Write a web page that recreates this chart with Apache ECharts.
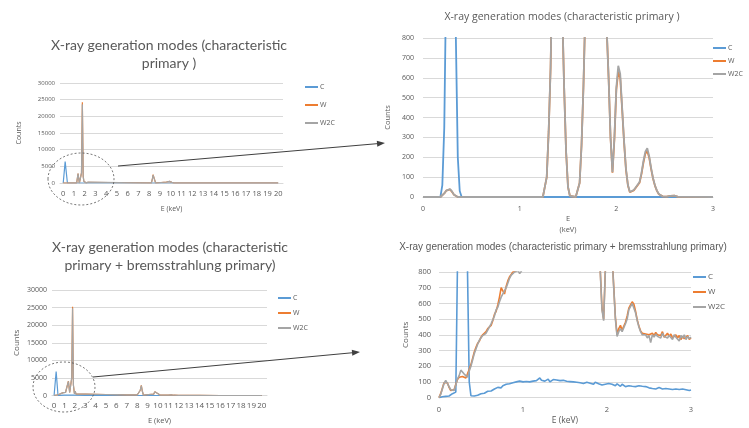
<!DOCTYPE html>
<html>
<head>
<meta charset="utf-8">
<script src="https://cdn.jsdelivr.net/npm/echarts@6/dist/echarts.min.js"></script>
<style>
  html, body { margin: 0; padding: 0; background: #fff; }
  #chart { width: 749px; height: 428px; }
</style>
</head>
<body>
<div id="chart"></div>
<script>
// full range spectra (E keV, counts), characteristic primary only
const fullCharC = [[0,0],[0.15,0],[0.18,6400],[0.36,6500],[0.39,0],[20,0]];
const fullCharW = [[0,0],[0.2,0],[0.27,40],[0.35,0],[1.25,0],[1.38,2800],[1.5,0],[1.6,0],[1.7,3000],[1.78,24200],[1.86,2000],[1.92,500],[1.96,120],[2.03,600],[2.12,50],[2.32,220],[2.45,0],[8.2,0],[8.3,1300],[8.36,2500],[8.42,2700],[8.5,1000],[8.6,0],[9.6,300],[9.7,800],[9.9,500],[10.1,200],[10.3,0],[20,0]];
const fullCharW2C = [[0,0],[0.2,0],[0.27,40],[0.35,0],[1.25,0],[1.38,2800],[1.5,0],[1.6,0],[1.7,3000],[1.78,23600],[1.86,2000],[1.92,500],[1.96,120],[2.03,670],[2.12,50],[2.32,245],[2.45,0],[8.2,0],[8.3,1200],[8.36,2400],[8.42,2600],[8.5,1000],[8.6,0],[9.6,300],[9.7,780],[9.9,480],[10.1,200],[10.3,0],[20,0]];

// full range spectra, characteristic + bremsstrahlung primary
const fullBremC = [[0,0],[0.1,10],[0.15,30],[0.2,6800],[0.33,7000],[0.38,10],[0.5,30],[1,100],[1.2,120],[2,90],[3,50],[5,20],[10,5],[20,0]];
const fullBremW = [[0,0],[0.1,110],[0.17,40],[0.27,150],[0.35,120],[0.5,360],[0.7,600],[0.9,800],[1.1,850],[1.25,900],[1.38,4100],[1.5,900],[1.6,950],[1.7,5000],[1.78,25200],[1.86,3000],[1.96,500],[2.03,1200],[2.12,400],[2.3,610],[2.45,400],[3,380],[4,330],[5,280],[6,230],[7,180],[8,150],[8.3,1500],[8.4,2900],[8.5,1200],[8.6,140],[9.6,400],[9.7,1100],[9.9,700],[10.2,120],[11,90],[11.3,200],[11.5,80],[12,60],[13,40],[14,20],[16,5],[20,0]];
const fullBremW2C = [[0,0],[0.1,110],[0.17,40],[0.27,180],[0.35,120],[0.5,350],[0.7,600],[0.9,800],[1.1,850],[1.25,900],[1.38,4000],[1.5,900],[1.6,950],[1.7,5000],[1.78,24800],[1.86,3000],[1.96,490],[2.03,1200],[2.12,400],[2.3,600],[2.45,400],[3,380],[4,330],[5,280],[6,230],[7,180],[8,150],[8.3,1500],[8.4,2800],[8.5,1200],[8.6,140],[9.6,400],[9.7,1050],[9.9,700],[10.2,120],[11,90],[11.3,200],[11.5,80],[12,60],[13,40],[14,20],[16,5],[20,0]];

// zoomed 0-3 keV, characteristic primary
const zoomCharC = [[0,0],[0.18,0],[0.20,60],[0.22,350],[0.24,1100],[0.26,4000],[0.28,6500],[0.30,5000],[0.32,2200],[0.34,800],[0.36,200],[0.38,30],[0.40,0],[3,0]];
const zoomCharW = [[0,0],[0.18,0],[0.20,5],[0.22,18],[0.24,32],[0.26,40],[0.28,38],[0.30,26],[0.32,11],[0.34,3],[0.36,0],
  [1.24,0],[1.26,10],[1.28,100],[1.30,330],[1.32,650],[1.34,1200],[1.36,2000],[1.38,2800],[1.40,2600],[1.42,1700],[1.44,950],[1.46,550],[1.48,230],[1.50,50],[1.52,5],[1.54,0],[1.58,0],
  [1.60,10],[1.62,70],[1.64,260],[1.66,560],[1.68,950],[1.70,3000],[1.72,8500],[1.74,16000],[1.76,22000],[1.78,24200],[1.80,19000],[1.82,11000],[1.84,5000],[1.86,2200],[1.88,1200],[1.90,850],
  [1.92,600],[1.94,300],[1.96,122],[1.98,290],[2.00,540],[2.02,630],[2.04,600],[2.06,440],[2.08,275],[2.10,135],[2.12,58],[2.14,24],[2.16,19],[2.18,33],[2.20,46],[2.22,56],[2.24,72],
  [2.26,115],[2.28,172],[2.30,218],[2.32,232],[2.34,198],[2.36,140],[2.38,92],[2.40,56],[2.42,31],[2.44,14],[2.46,6],[2.48,3],[2.50,2],[2.52,2],[2.54,4],[2.56,6],[2.58,8],[2.60,7],[2.62,4],[2.64,1],[2.66,0],[3,0]];
const zoomCharW2C = [[0,0],[0.18,0],[0.20,5],[0.22,18],[0.24,32],[0.26,42],[0.28,40],[0.30,28],[0.32,12],[0.34,3],[0.36,0],
  [1.24,0],[1.26,10],[1.28,100],[1.30,330],[1.32,650],[1.34,1200],[1.36,2000],[1.38,2800],[1.40,2600],[1.42,1700],[1.44,950],[1.46,550],[1.48,230],[1.50,50],[1.52,5],[1.54,0],[1.58,0],
  [1.60,10],[1.62,70],[1.64,260],[1.66,560],[1.68,950],[1.70,3000],[1.72,8500],[1.74,16000],[1.76,22000],[1.78,23600],[1.80,19000],[1.82,11000],[1.84,5000],[1.86,2200],[1.88,1200],[1.90,850],
  [1.92,600],[1.94,300],[1.96,125],[1.98,300],[2.00,550],[2.02,660],[2.04,620],[2.06,450],[2.08,280],[2.10,140],[2.12,60],[2.14,25],[2.16,20],[2.18,35],[2.20,48],[2.22,58],[2.24,75],
  [2.26,120],[2.28,180],[2.30,228],[2.32,245],[2.34,205],[2.36,145],[2.38,95],[2.40,58],[2.42,32],[2.44,15],[2.46,6],[2.48,3],[2.50,2],[2.52,2],[2.54,4],[2.56,6],[2.58,8],[2.60,7],[2.62,4],[2.64,1],[2.66,0],[3,0]];

// zoomed 0-3 keV, characteristic + bremsstrahlung, one value every 0.02 keV
const zoomStep = 0.02;
const zoomBremC = [
  0, 3, 5, 5, 8,   8, 10, 15, 25, 30,   35, 850, 3500, 6000, 6800,   5200, 2500, 780, 100, 12,
  8, 10, 12, 15, 18,   25, 30, 28, 35, 40,   45, 42, 50, 55, 60,   65, 70, 62, 75, 80,
  85, 78, 88, 90, 95,   92, 100, 98, 105, 95,   100, 108, 103, 110, 100,   112, 105, 115, 108, 118,
  125, 110, 120, 105, 112,   118, 100, 110, 115, 105,   112, 100, 108, 98, 110,   100, 104, 95, 102, 98,
  100, 92, 98, 102, 95,   100, 90, 95, 98, 88,   92, 95, 85, 98, 90,   88, 92, 80, 90, 85,
  82, 90, 78, 85, 80,   75, 88, 80, 72, 85,   78, 70, 80, 75, 68,   72, 78, 70, 65, 75,
  68, 72, 60, 70, 65,   62, 70, 58, 65, 55,   60, 64, 58, 55, 62,   58, 60, 55, 62, 52,
  58, 55, 60, 52, 58,   55, 60, 50, 58, 45,   48];
const zoomBremW = [
  0, 25, 60, 95, 105,   95, 65, 45, 40, 50,   85, 115, 130, 140, 135,   130, 125, 135, 180, 210,
  250, 290, 320, 345, 360,   385, 400, 405, 420, 440,   430, 460, 490, 530, 550,   590, 640, 700, 680, 660,
  710, 745, 770, 785, 800,   790, 810, 800, 815, 805,   835, 850, 845, 865, 860,   875, 870, 885, 890, 895,
  905, 910, 925, 970, 1120,   1420, 1920, 2650, 3450, 4050,   3750, 2850, 2050, 1520, 1210,   1060, 990, 965, 955, 960,
  975, 1030, 1210, 1520, 2050,   4300, 9700, 17300, 23300, 25200,   20200, 12100, 5600, 2650, 1520,   1010, 810, 570, 500, 810,
  1110, 1310, 1260, 910, 710,   510, 400, 440, 460, 430,   440, 480, 520, 570, 590,   610, 595, 550, 495, 455,
  425, 410, 400, 405, 395,   400, 390, 410, 395, 415,   400, 405, 395, 420, 385,   395, 410, 390, 405, 380,
  390, 400, 380, 395, 370,   390, 375, 385, 395, 370,   380];
const zoomBremW2C = [
  0, 20, 55, 90, 110,   100, 70, 50, 40, 45,   80, 120, 140, 175, 165,   150, 140, 130, 170, 200,
  240, 280, 310, 340, 365,   375, 395, 390, 410, 430,   440, 470, 480, 520, 560,   575, 610, 640, 660, 650,
  700, 730, 760, 780, 790,   800, 795, 810, 790, 805,   830, 845, 850, 860, 855,   870, 875, 880, 885, 890,
  900, 905, 920, 960, 1100,   1400, 1900, 2600, 3400, 4000,   3700, 2800, 2000, 1500, 1200,   1050, 980, 960, 950, 955,
  970, 1020, 1200, 1500, 2000,   4200, 9500, 17000, 23000, 25000,   20000, 12000, 5500, 2600, 1500,   1000, 800, 560, 490, 800,
  1100, 1300, 1250, 900, 700,   500, 390, 420, 440, 420,   430, 470, 500, 560, 580,   600, 590, 540, 490, 450,
  420, 400, 390, 400, 380,   395, 350, 400, 385, 405,   390, 400, 380, 410, 390,   400, 380, 395, 400, 370,
  400, 385, 390, 360, 395,   380, 400, 370, 390, 375,   385];

const fullTicks = [0,1,2,3,4,5,6,7,8,9,10,11,12,13,14,15,16,17,18,19,20];
const seriesNames = ['C', 'W', 'W2C'];
const colors = { C: '#5b9bd5', W: '#ed7d31', W2C: '#a5a5a5' };

const onGrid = values => values.map((v, i) => [+(i * zoomStep).toFixed(2), v]);

const textGray = '#595959';
const gridGray = '#d9d9d9';

const grids = [
  { left: 60, top: 83, width: 223, height: 100 },
  { left: 52, top: 290, width: 215, height: 108 },
  { left: 423, top: 38, width: 290, height: 159 },
  { left: 439, top: 272, width: 252, height: 131 }
];

function xAxisFor(i, cfg) {
  return {
    type: 'value', gridIndex: i, min: cfg.min, max: cfg.max,
    name: cfg.name, nameLocation: 'middle', nameGap: cfg.nameGap,
    nameTextStyle: { color: textGray, fontSize: cfg.nameSize, fontFamily: 'Open Sans', lineHeight: cfg.nameSize + 4 },
    axisLine: { show: true, onZero: false, lineStyle: { color: gridGray } },
    axisTick: { show: false },
    splitLine: { show: false },
    axisLabel: {
      color: textGray, fontSize: cfg.labelSize, fontFamily: 'Open Sans', margin: cfg.margin,
      customValues: cfg.ticks, showMinLabel: true, showMaxLabel: true
    }
  };
}

function yAxisFor(i, cfg) {
  return {
    type: 'value', gridIndex: i, min: 0, max: cfg.max, interval: cfg.interval,
    name: 'Counts', nameLocation: 'middle', nameGap: cfg.nameGap, nameRotate: 90,
    nameTextStyle: { color: textGray, fontSize: cfg.nameSize, fontFamily: 'Open Sans' },
    axisLine: { show: false }, axisTick: { show: false },
    splitLine: { lineStyle: { color: gridGray, width: 1 } },
    axisLabel: { color: textGray, fontSize: cfg.labelSize, fontFamily: 'Open Sans', margin: cfg.margin, formatter: v => String(v) }
  };
}

function spectrum(name, data, i, width) {
  return {
    name, type: 'line', xAxisIndex: i, yAxisIndex: i, data,
    symbol: 'none', showSymbol: false, clip: true,
    lineStyle: { width, color: colors[name] },
    itemStyle: { color: colors[name] }
  };
}

function legendFor(left, top, gap, size) {
  return {
    data: seriesNames, orient: 'vertical', left, top, padding: 0, itemGap: gap,
    icon: 'rect', itemWidth: 13, itemHeight: 2, selectedMode: false,
    textStyle: { color: textGray, fontSize: size, fontFamily: 'Open Sans', lineHeight: 10, padding: [0, 0, 0, -3] }
  };
}

const titleStyle = (family, size, lh) => ({ color: textGray, fontFamily: family, fontSize: size, fontWeight: 'normal', lineHeight: lh });

const chart = echarts.init(document.getElementById('chart'));
chart.setOption({
  animation: false,
  backgroundColor: '#fff',
  title: [
    { text: 'X-ray generation modes (characteristic\nprimary )', left: 169, top: 36, textAlign: 'center', padding: 0, textStyle: titleStyle('Lato', 14, 18) },
    { text: 'X-ray generation modes (characteristic\nprimary + bremsstrahlung primary)', left: 170, top: 238, textAlign: 'center', padding: 0, textStyle: titleStyle('Lato', 14, 18) },
    { text: 'X-ray generation modes (characteristic primary )', left: 562, top: 11, textAlign: 'center', padding: 0, textStyle: titleStyle('Open Sans', 10.5, 12) },
    { text: 'X-ray generation modes (characteristic primary + bremsstrahlung primary)', left: 563, top: 241, textAlign: 'center', padding: 0, textStyle: titleStyle('Liberation Sans', 10, 12) }
  ],
  legend: [
    legendFor(305, 82, 8, 7),
    legendFor(278, 293, 5, 7),
    legendFor(713, 43, 3, 7),
    legendFor(693, 272, 5, 8)
  ],
  grid: grids,
  xAxis: [
    xAxisFor(0, { min: -0.3, max: 20.45, name: 'E (keV)', nameGap: 20, nameSize: 7, labelSize: 7.5, margin: 7, ticks: fullTicks }),
    xAxisFor(1, { min: -0.2, max: 20.5, name: 'E (keV)', nameGap: 20, nameSize: 7.5, labelSize: 8, margin: 6, ticks: fullTicks }),
    xAxisFor(2, { min: 0, max: 3, name: 'E\n(keV)', nameGap: 16, nameSize: 7.5, labelSize: 7, margin: 8, ticks: [0, 1, 2, 3] }),
    xAxisFor(3, { min: 0, max: 3, name: 'E (keV)', nameGap: 15, nameSize: 8.5, labelSize: 7.5, margin: 8, ticks: [0, 1, 2, 3] })
  ],
  yAxis: [
    yAxisFor(0, { max: 30000, interval: 5000, nameGap: 38, nameSize: 7, labelSize: 6, margin: 5 }),
    yAxisFor(1, { max: 30000, interval: 5000, nameGap: 31, nameSize: 8, labelSize: 7, margin: 5 }),
    yAxisFor(2, { max: 800, interval: 100, nameGap: 31, nameSize: 7.5, labelSize: 7, margin: 9 }),
    yAxisFor(3, { max: 800, interval: 100, nameGap: 29, nameSize: 8, labelSize: 7.5, margin: 8 })
  ],
  series: [
    spectrum('C', fullCharC, 0, 1.2),
    spectrum('W', fullCharW, 0, 1.2),
    spectrum('W2C', fullCharW2C, 0, 1.2),
    spectrum('C', fullBremC, 1, 1.2),
    spectrum('W', fullBremW, 1, 1.2),
    spectrum('W2C', fullBremW2C, 1, 1.2),
    spectrum('C', zoomCharC, 2, 1.8),
    spectrum('W', zoomCharW, 2, 1.8),
    spectrum('W2C', zoomCharW2C, 2, 1.8),
    spectrum('C', onGrid(zoomBremC), 3, 1.6),
    spectrum('W', onGrid(zoomBremW), 3, 1.6),
    spectrum('W2C', onGrid(zoomBremW2C), 3, 1.6)
  ],
  graphic: [
    // dashed zoom circles and arrows pointing to the zoomed charts
    { type: 'ellipse', shape: { cx: 81, cy: 179, rx: 33, ry: 26 }, style: { fill: 'none', stroke: '#555', lineWidth: 0.8, lineDash: [2, 2] }, z: 100 },
    { type: 'ellipse', shape: { cx: 64, cy: 387, rx: 31, ry: 25 }, style: { fill: 'none', stroke: '#555', lineWidth: 0.8, lineDash: [2, 2] }, z: 100 },
    { type: 'line', shape: { x1: 118, y1: 166, x2: 378, y2: 143.6 }, style: { stroke: '#404040', lineWidth: 1 }, z: 100 },
    { type: 'polygon', shape: { points: [[385, 143], [377.3, 146.7], [376.8, 140.7]] }, style: { fill: '#404040' }, z: 100 },
    { type: 'line', shape: { x1: 93, y1: 377, x2: 353, y2: 352.7 }, style: { stroke: '#404040', lineWidth: 1 }, z: 100 },
    { type: 'polygon', shape: { points: [[360, 352], [352.3, 355.7], [351.8, 349.8]] }, style: { fill: '#404040' }, z: 100 }
  ]
});
</script>
</body>
</html>
